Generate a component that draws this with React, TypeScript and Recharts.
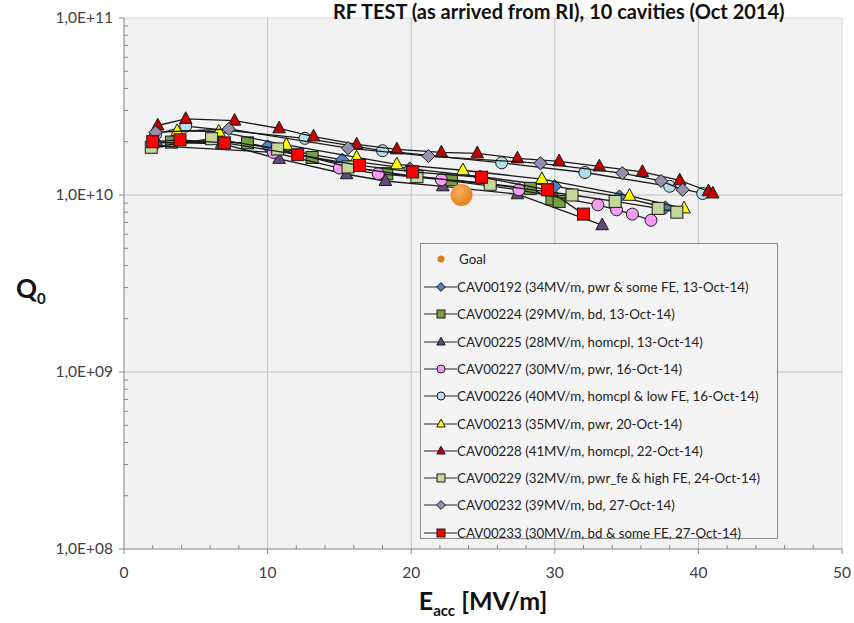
import { ScatterChart, Scatter, XAxis, YAxis, CartesianGrid, ReferenceLine } from "recharts";

// values (E_acc in MV/m, Q0)
const goalE = [23.5];
const goalQ = [1.0e10];

const cav00192E = [2.0, 6.7, 10.0, 15.2, 19.9, 24.8, 30.0, 34.5, 37.7];
const cav00192Q = [1.98e10, 2.03e10, 1.88e10, 1.58e10, 1.41e10, 1.27e10, 1.12e10, 9.8e9, 8.5e9];

const cav00224E = [3.3, 8.6, 13.1, 18.3, 22.8, 28.3, 29.8, 30.3];
const cav00224Q = [1.99e10, 1.97e10, 1.63e10, 1.32e10, 1.22e10, 1.09e10, 9.5e9, 9.2e9];

const cav00225E = [2.3, 6.8, 10.8, 15.5, 18.2, 22.2, 27.4, 33.3];
const cav00225Q = [1.98e10, 1.95e10, 1.6e10, 1.31e10, 1.2e10, 1.12e10, 1.01e10, 6.75e9];

const cav00227E = [2.0, 10.4, 15.0, 17.7, 22.1, 27.5, 33.0, 34.3, 35.4, 36.7];
const cav00227Q = [1.9e10, 1.74e10, 1.42e10, 1.32e10, 1.22e10, 1.07e10, 8.8e9, 8.25e9, 7.8e9, 7.2e9];

const cav00226E = [2.2, 4.3, 12.6, 18.0, 26.3, 32.1, 38.0, 40.3];
const cav00226Q = [2.2e10, 2.45e10, 2.09e10, 1.78e10, 1.52e10, 1.34e10, 1.12e10, 1.02e10];

const cav00213E = [3.7, 6.6, 11.3, 16.2, 19.0, 23.6, 29.1, 35.2, 39.0];
const cav00213Q = [2.3e10, 2.28e10, 1.92e10, 1.63e10, 1.49e10, 1.38e10, 1.23e10, 9.9e9, 8.4e9];

const cav00228E = [2.35, 4.3, 7.7, 10.8, 13.2, 16.2, 19.0, 22.1, 24.6, 27.4, 30.3, 33.1, 36.1, 38.7, 40.7, 41.0];
const cav00228Q = [2.47e10, 2.69e10, 2.63e10, 2.38e10, 2.14e10, 1.93e10, 1.81e10, 1.74e10, 1.72e10, 1.61e10, 1.55e10, 1.45e10, 1.35e10, 1.21e10, 1.05e10, 1.02e10];

const cav00229E = [1.9, 6.1, 10.7, 15.6, 20.4, 25.5, 31.2, 34.2, 37.2, 38.5];
const cav00229Q = [1.86e10, 2.08e10, 1.82e10, 1.44e10, 1.27e10, 1.15e10, 1.0e10, 9.2e9, 8.4e9, 8.0e9];

const cav00232E = [2.2, 7.3, 15.6, 21.2, 29.0, 34.7, 37.4, 38.9];
const cav00232Q = [2.26e10, 2.36e10, 1.84e10, 1.66e10, 1.51e10, 1.33e10, 1.2e10, 1.07e10];

const cav00233E = [2.0, 3.9, 7.0, 12.1, 16.4, 20.1, 24.9, 29.5, 32.0];
const cav00233Q = [2.0e10, 2.05e10, 1.97e10, 1.69e10, 1.47e10, 1.35e10, 1.26e10, 1.07e10, 7.8e9];

const xTicks = [0, 10, 20, 30, 40, 50];
const yTicks = [1e8, 1e9, 1e10, 1e11];

const zip = (e: number[], q: number[]) => e.map((v, i) => ({ e: v, q: q[i] }));

const series = [
  { name: "CAV00192 (34MV/m, pwr & some FE, 13-Oct-14)", data: zip(cav00192E, cav00192Q), kind: "diamond", fill: "#4f81bd" },
  { name: "CAV00224 (29MV/m, bd, 13-Oct-14)", data: zip(cav00224E, cav00224Q), kind: "square", fill: "#77a043" },
  { name: "CAV00225 (28MV/m, homcpl, 13-Oct-14)", data: zip(cav00225E, cav00225Q), kind: "triangle", fill: "#604a7b" },
  { name: "CAV00227 (30MV/m, pwr, 16-Oct-14)", data: zip(cav00227E, cav00227Q), kind: "circle", fill: "#f59cf5" },
  { name: "CAV00226 (40MV/m, homcpl & low FE, 16-Oct-14)", data: zip(cav00226E, cav00226Q), kind: "circle", fill: "#b7dee8" },
  { name: "CAV00213 (35MV/m, pwr, 20-Oct-14)", data: zip(cav00213E, cav00213Q), kind: "triangle", fill: "#ffff00" },
  { name: "CAV00228 (41MV/m, homcpl, 22-Oct-14)", data: zip(cav00228E, cav00228Q), kind: "triangle", fill: "#c00000" },
  { name: "CAV00229 (32MV/m, pwr_fe & high FE, 24-Oct-14)", data: zip(cav00229E, cav00229Q), kind: "square", fill: "#c3d69b" },
  { name: "CAV00232 (39MV/m, bd, 27-Oct-14)", data: zip(cav00232E, cav00232Q), kind: "diamond", fill: "#9490b0" },
  { name: "CAV00233 (30MV/m, bd & some FE, 27-Oct-14)", data: zip(cav00233E, cav00233Q), kind: "square", fill: "#ff0000" },
];

const FONT = "Lato, 'Open Sans', sans-serif";

function marker(kind: string, fill: string, cx: number, cy: number, s: number) {
  const st = { fill, stroke: "#1a1a1a", strokeWidth: 1 };
  if (kind === "square") return <rect x={cx - s} y={cy - s} width={2 * s} height={2 * s} {...st} />;
  if (kind === "circle") return <circle cx={cx} cy={cy} r={s} {...st} />;
  if (kind === "diamond")
    return <polygon points={`${cx},${cy - s * 1.1} ${cx + s * 1.1},${cy} ${cx},${cy + s * 1.1} ${cx - s * 1.1},${cy}`} {...st} />;
  return <polygon points={`${cx},${cy - s * 1.2} ${cx + s * 1.05},${cy + s * 0.75} ${cx - s * 1.05},${cy + s * 0.75}`} {...st} />;
}

const makeShape = (kind: string, fill: string) => (props: any) => {
  const { cx, cy } = props;
  if (cx == null || cy == null) return <g />;
  return marker(kind, fill, cx, cy, 6);
};

const GoalShape = (props: any) => {
  const { cx, cy } = props;
  if (cx == null || cy == null) return <g />;
  return (
    <g>
      <defs>
        <radialGradient id="goalGrad" cx="40%" cy="35%" r="70%">
          <stop offset="0%" stopColor="#f8b060" />
          <stop offset="100%" stopColor="#e07d18" />
        </radialGradient>
      </defs>
      <circle cx={cx} cy={cy} r={11} fill="url(#goalGrad)" />
    </g>
  );
};

const XTick = (props: any) => {
  const { x, y, payload } = props;
  const v = payload.value;
  const major = v % 10 === 0;
  return (
    <g>
      {major ? (
        <line x1={x} y1={y} x2={x} y2={y + 5} stroke="#868686" />
      ) : (
        <line x1={x} y1={y - 4} x2={x} y2={y} stroke="#868686" />
      )}
      {major && (
        <text x={x} y={y + 29} textAnchor="middle" fontSize={15.5} fill="#404040" fontFamily={FONT}>
          {v}
        </text>
      )}
    </g>
  );
};

const YTick = (props: any) => {
  const { x, y, payload } = props;
  const v = payload.value;
  const lg = Math.log10(v);
  const major = Math.abs(lg - Math.round(lg)) < 1e-6;
  const exp = String(Math.round(lg)).padStart(2, "0");
  return (
    <g>
      {major ? (
        <line x1={x - 5} y1={y} x2={x} y2={y} stroke="#868686" />
      ) : (
        <line x1={x} y1={y} x2={x + 4} y2={y} stroke="#868686" />
      )}
      {major && (
        <text x={x - 11} y={y + 5} textAnchor="end" fontSize={15.5} fill="#404040" fontFamily={FONT}>
          {`1,0E+${exp}`}
        </text>
      )}
    </g>
  );
};

const xAllTicks: number[] = [];
for (let v = 0; v <= 50; v += 2) xAllTicks.push(v);
const yAllTicks: number[] = [];
for (let d = 8; d <= 10; d++) for (let k = 1; k <= 9; k++) yAllTicks.push(k * Math.pow(10, d));
yAllTicks.push(1e11);

function LegendBox() {
  return (
    <div
      style={{
        position: "absolute",
        left: 420,
        top: 243,
        width: 358,
        height: 296,
        background: "#f4f4f4",
        border: "1px solid #8a8a8a",
        fontFamily: FONT,
        fontSize: 13.3,
        color: "#222",
        boxSizing: "border-box",
      }}
    >
      <div style={{ position: "absolute", left: 0, top: 6, height: 18, display: "flex", alignItems: "center" }}>
        <svg width={36} height={18}>
          <circle cx={20} cy={9} r={3.5} fill="#e07d18" />
        </svg>
        <span style={{ marginLeft: 2 }}>Goal</span>
      </div>
      {series.map((s, i) => (
        <div
          key={s.name}
          style={{ position: "absolute", left: 0, top: 34 + i * 27.3, height: 18, display: "flex", alignItems: "center", whiteSpace: "nowrap" }}
        >
          <svg width={36} height={18}>
            <line x1={3} y1={9} x2={36} y2={9} stroke="#222" strokeWidth={1.2} />
            {marker(s.kind, s.fill, 20, 9, 4)}
          </svg>
          <span>{s.name}</span>
        </div>
      ))}
    </div>
  );
}

export default function App() {
  return (
    <div style={{ position: "absolute", left: 0, top: 0, width: 854, height: 623, background: "#fff", overflow: "hidden" }}>
      <ScatterChart width={854} height={623} margin={{ top: 18, right: 12, bottom: 44, left: 0 }}>
        <CartesianGrid fill="#f2f2f2" horizontal={false} vertical={false} />
        {xTicks.slice(1).map((t) => (
          <ReferenceLine key={`vx${t}`} x={t} stroke={t === 50 ? "#d9d9d9" : "#c0c0c0"} strokeWidth={1} />
        ))}
        {yTicks.slice(1).map((t) => (
          <ReferenceLine key={`hy${t}`} y={t} stroke={t === 1e11 ? "#d9d9d9" : "#c0c0c0"} strokeWidth={1} />
        ))}
        <XAxis
          type="number"
          dataKey="e"
          domain={[0, 50]}
          ticks={xAllTicks}
          interval={0}
          allowDataOverflow
          height={30}
          tickLine={false}
          tickSize={0}
          tickMargin={0}
          tick={<XTick />}
          axisLine={{ stroke: "#868686" }}
        />
        <YAxis
          type="number"
          dataKey="q"
          scale="log"
          domain={[1e8, 1e11]}
          ticks={yAllTicks}
          interval={0}
          allowDataOverflow
          width={124}
          tickLine={false}
          tickSize={0}
          tickMargin={0}
          tick={<YTick />}
          axisLine={{ stroke: "#868686" }}
        />
        {series.map((s) => (
          <Scatter
            key={s.name}
            name={s.name}
            data={s.data}
            line={{ stroke: "#1a1a1a", strokeWidth: 1.3 }}
            lineType="joint"
            shape={makeShape(s.kind, s.fill)}
            isAnimationActive={false}
          />
        ))}
        <Scatter name="Goal" data={zip(goalE, goalQ)} shape={GoalShape} isAnimationActive={false} />
      </ScatterChart>
      <div
        style={{
          position: "absolute",
          left: 333,
          top: 0,
          whiteSpace: "nowrap",
          fontFamily: FONT,
          fontWeight: 700,
          fontSize: 20,
          lineHeight: "22px",
          color: "#111",
        }}
      >
        RF TEST (as arrived from RI), 10 cavities (Oct 2014)
      </div>
      <div style={{ position: "absolute", left: 16, top: 272, fontFamily: FONT, fontWeight: 700, fontSize: 26, color: "#111" }}>
        Q<sub style={{ fontSize: 15 }}>0</sub>
      </div>
      <div
        style={{
          position: "absolute",
          left: 0,
          width: 966,
          top: 585,
          textAlign: "center",
          fontFamily: FONT,
          fontWeight: 700,
          fontSize: 25,
          color: "#111",
        }}
      >
        E<sub style={{ fontSize: 15 }}>acc</sub> [MV/m]
      </div>
      <LegendBox />
    </div>
  );
}
